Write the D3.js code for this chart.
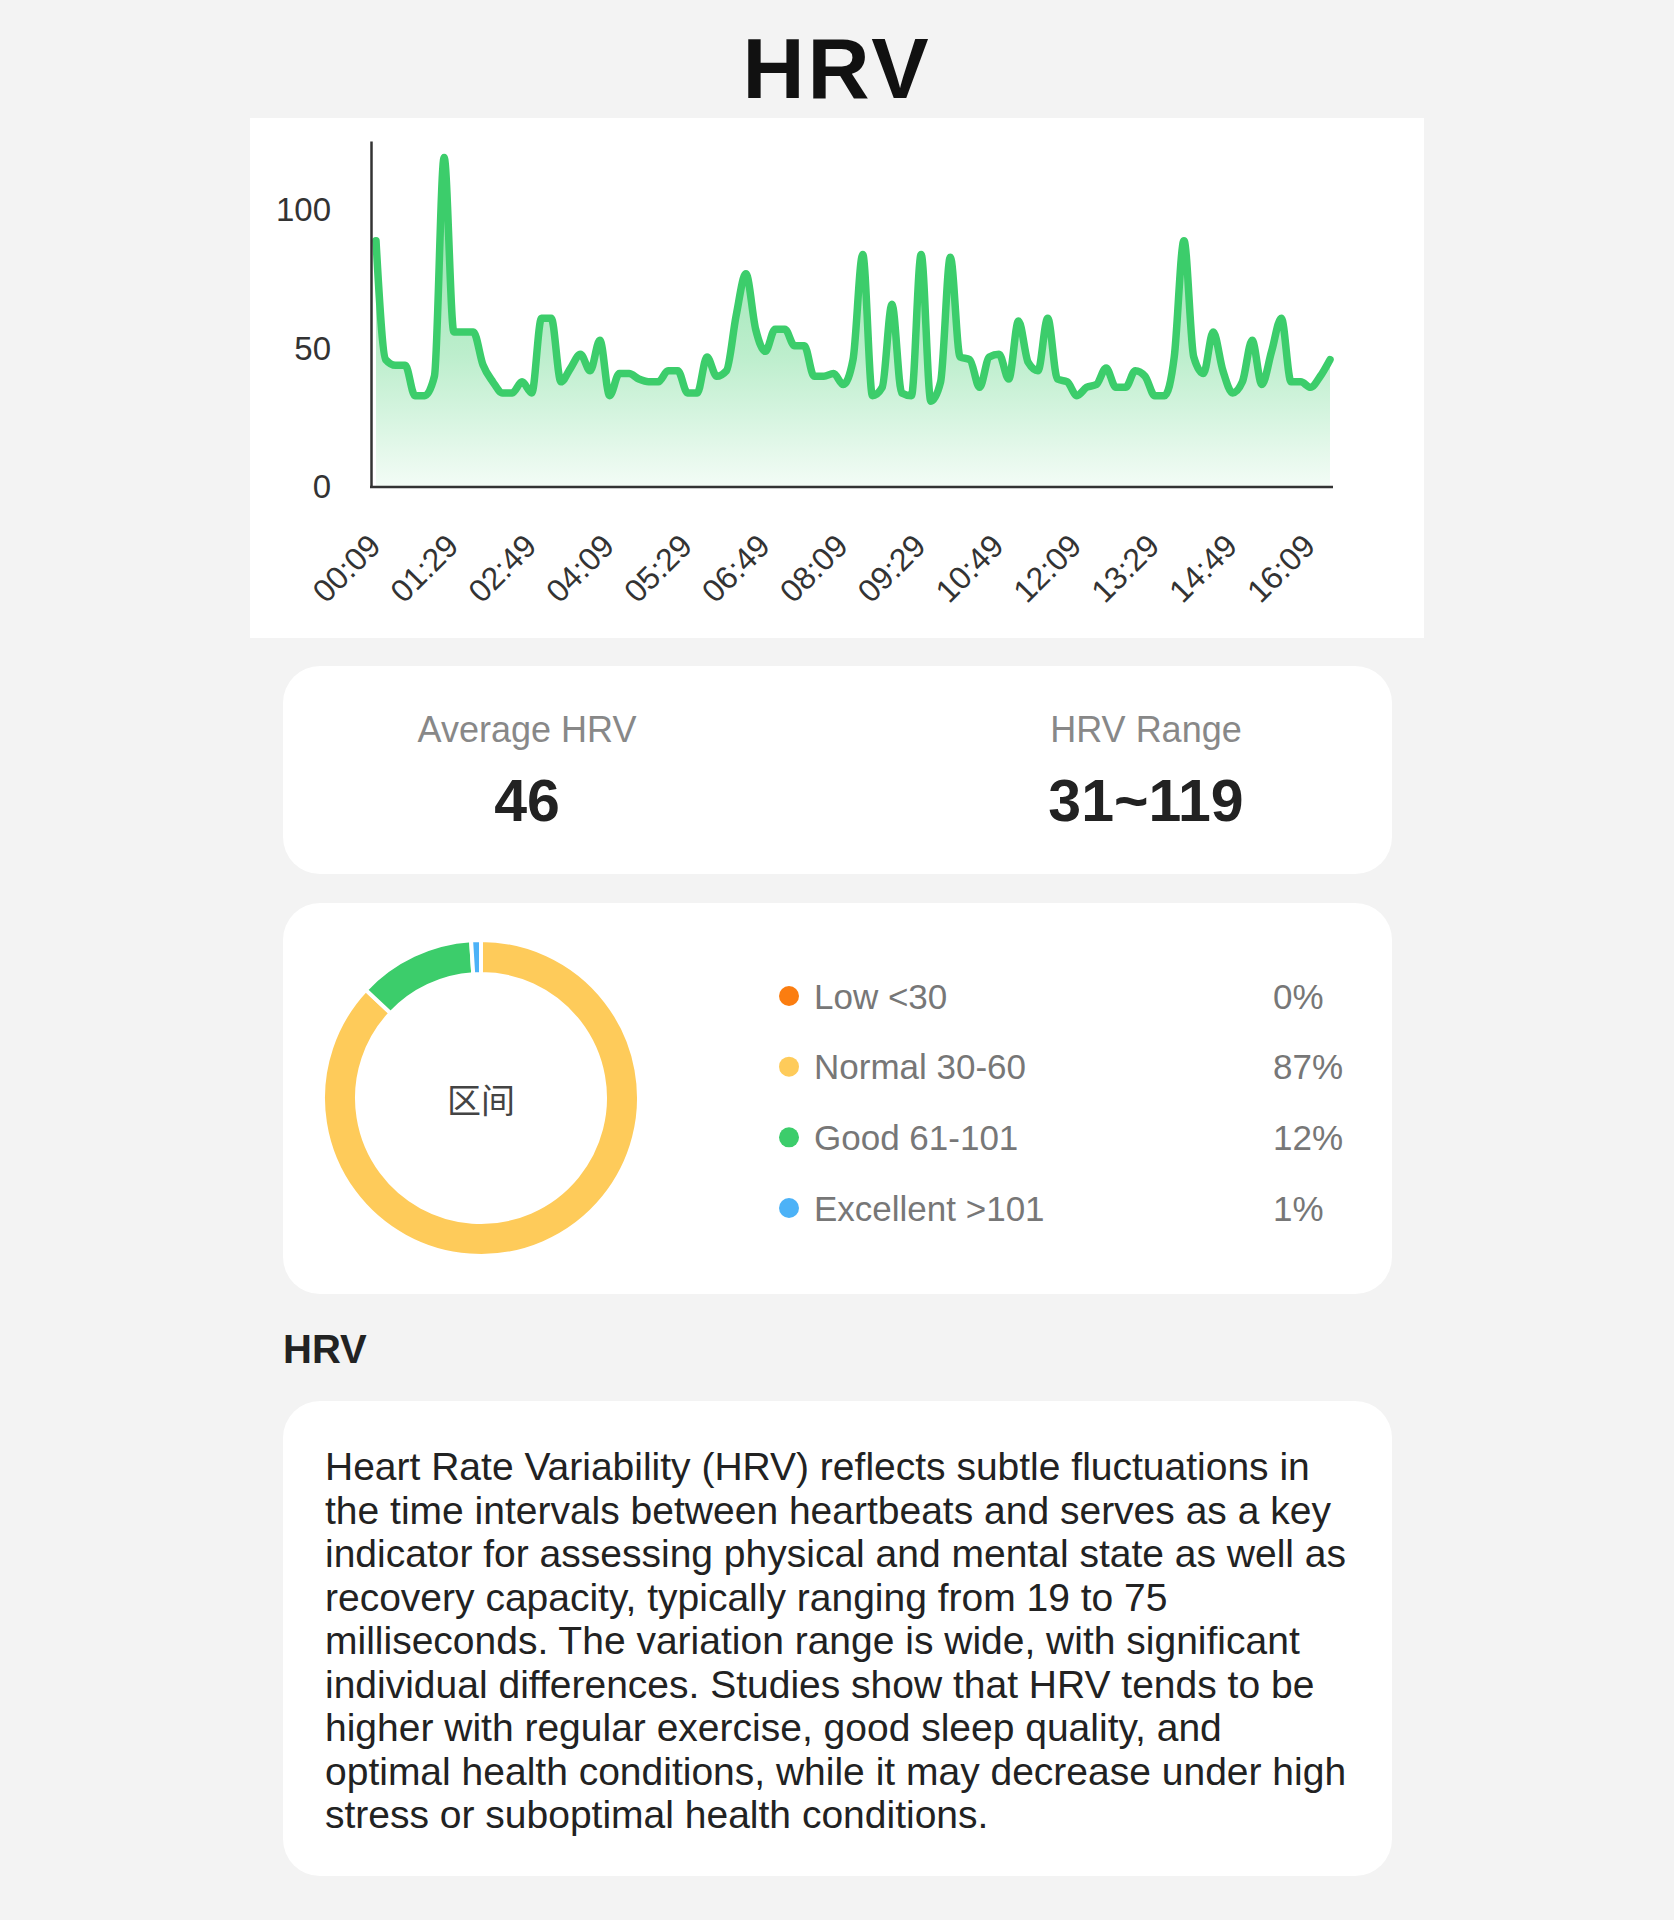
<!DOCTYPE html>
<html><head><meta charset="utf-8">
<script src="https://cdn.jsdelivr.net/npm/d3@7"></script>
<style>
html,body{margin:0;padding:0;background:#f3f3f3;}
svg{display:block;}
</style></head>
<body>
<svg id="c" width="1674" height="1920"></svg>
<script>
// ---------------- DATA ----------------
const startMinute = 9;          // 00:09
const stepMinutes = 10;         // one reading every 10 minutes
const hrvValues = [
  89,46,44,44,33,33,40,119,56,56,
  56,44,38,34,34,38,34,61,61,38,
  43,48,42,53,33,41,41,39,38,38,
  42,42,34,34,47,40,42,62,77,57,
  49,57,57,51,51,40,40,41,37,46,
  84,33,36,66,34,33,84,31,38,83,
  47,46,36,47,48,39,60,45,42,61,
  39,38,33,36,37,43,36,36,42,40,
  33,33,47,89,47,41,56,42,34,38,
  53,37,49,61,38,38,36,40,46
];
const xTickLabels = ["00:09","01:29","02:49","04:09","05:29","06:49","08:09","09:29","10:49","12:09","13:29","14:49","16:09"];
const yTickValues = [0,50,100];
const yMax = 125;
const zoneNames = ["Low <30","Normal 30-60","Good 61-101","Excellent >101"];
const zonePercents = [0,87,12,1];
const zoneColors = ["#fb7d10","#fecb5a","#3ccd6b","#4cb2f7"];
const statLabels = ["Average HRV","HRV Range"];
const statValues = ["46","31~119"];
const donutCenterLabel = "区间";
const pageTitle = "HRV";
const sectionTitle = "HRV";
const descLines = [
  "Heart Rate Variability (HRV) reflects subtle fluctuations in",
  "the time intervals between heartbeats and serves as a key",
  "indicator for assessing physical and mental state as well as",
  "recovery capacity, typically ranging from 19 to 75",
  "milliseconds. The variation range is wide, with significant",
  "individual differences. Studies show that HRV tends to be",
  "higher with regular exercise, good sleep quality, and",
  "optimal health conditions, while it may decrease under high",
  "stress or suboptimal health conditions."
];

// categories (time of each reading)
const pad2 = n => String(n).padStart(2,"0");
const times = hrvValues.map((_, i) => {
  const m = startMinute + i * stepMinutes;
  return pad2(Math.floor(m / 60)) + ":" + pad2(m % 60);
});

// ---------------- DRAW ----------------
const FONT = "'Liberation Sans', Arial, Helvetica, sans-serif";
const svg = d3.select("#c");
svg.append("rect").attr("width",1674).attr("height",1920).attr("fill","#f3f3f3");

// title
svg.append("text").attr("x",837).attr("y",98).attr("text-anchor","middle")
  .attr("font-family",FONT).attr("font-weight","bold").attr("font-size",86)
  .attr("letter-spacing",3).attr("fill","#111").text(pageTitle);

// chart card
svg.append("rect").attr("x",250).attr("y",118).attr("width",1174).attr("height",520).attr("fill","#fff");

const x = d3.scalePoint().domain(times).range([376,1330]);
const y = d3.scaleLinear().domain([0,yMax]).range([487,141]);

const defs = svg.append("defs");
const grad = defs.append("linearGradient").attr("id","areaGrad")
  .attr("gradientUnits","userSpaceOnUse").attr("x1",0).attr("x2",0)
  .attr("y1",y(d3.max(hrvValues))).attr("y2",y(0));
grad.append("stop").attr("offset","0%").attr("stop-color","#3ccd6b").attr("stop-opacity",0.62);
grad.append("stop").attr("offset","60%").attr("stop-color","#3ccd6b").attr("stop-opacity",0.34);
grad.append("stop").attr("offset","100%").attr("stop-color","#3ccd6b").attr("stop-opacity",0.06);

const area = d3.area().x((d,i)=>x(times[i])).y0(y(0)).y1(d=>y(d)).curve(d3.curveMonotoneX);
const line = d3.line().x((d,i)=>x(times[i])).y(d=>y(d)).curve(d3.curveMonotoneX);

svg.append("path").datum(hrvValues).attr("d",area).attr("fill","url(#areaGrad)");
svg.append("path").datum(hrvValues).attr("d",line).attr("fill","none")
  .attr("stroke","#3ccd6b").attr("stroke-width",7.5).attr("stroke-linejoin","round").attr("stroke-linecap","round");

// y axis
const yAxis = svg.append("g").attr("transform","translate(371,0)")
  .call(d3.axisLeft(y).tickValues(yTickValues).tickSize(0).tickPadding(40));
yAxis.select(".domain").attr("stroke","#333").attr("stroke-width",2.5);
yAxis.selectAll("text").attr("font-family",FONT).attr("font-size",33).attr("fill","#333");

// x axis
const xAxis = svg.append("g").attr("transform","translate(0,487)")
  .call(d3.axisBottom(x).tickValues(xTickLabels).tickSize(0));
xAxis.select(".domain").remove();
xAxis.append("line").attr("x1",370).attr("x2",x.range()[1]+3).attr("y1",0).attr("y2",0)
  .attr("stroke","#333").attr("stroke-width",2.5);
xAxis.selectAll(".tick text").attr("font-family",FONT).attr("font-size",32).attr("fill","#333")
  .attr("text-anchor","end").attr("y",0).attr("dy",0)
  .attr("transform","translate(6,61) rotate(-45)");

// cards
function card(yy,h){
  svg.append("rect").attr("x",283).attr("y",yy).attr("width",1109).attr("height",h)
    .attr("rx",37).attr("ry",37).attr("fill","#fff");
}
card(666,208);
card(903,391);
card(1401,475);

// stats
const statX = [527,1146];
statLabels.forEach((t,i)=>{
  svg.append("text").attr("x",statX[i]).attr("y",742).attr("text-anchor","middle")
    .attr("font-family",FONT).attr("font-size",36).attr("fill","#888").text(t);
  svg.append("text").attr("x",statX[i]).attr("y",821).attr("text-anchor","middle")
    .attr("font-family",FONT).attr("font-weight","bold").attr("font-size",59).attr("fill","#222").text(statValues[i]);
});

// donut
const pie = d3.pie().sort(null).value(d=>d);
const arc = d3.arc().innerRadius(124).outerRadius(158);
const dg = svg.append("g").attr("transform","translate(481,1098)");
dg.selectAll("path").data(pie(zonePercents)).join("path")
  .attr("d",arc).attr("fill",(d,i)=>zoneColors[i]).attr("stroke","#fff").attr("stroke-width",4);
dg.append("text").attr("text-anchor","middle").attr("dominant-baseline","central")
  .attr("font-family","'Noto Sans CJK SC', sans-serif").attr("font-size",34).attr("fill","#444")
  .text(donutCenterLabel);

// legend
const legY = d3.scalePoint().domain(zoneNames).range([996,1208]);
const lg = svg.append("g");
zoneNames.forEach((n,i)=>{
  const yy = legY(n);
  lg.append("circle").attr("cx",789).attr("cy",yy).attr("r",10).attr("fill",zoneColors[i]);
  lg.append("text").attr("x",814).attr("y",yy).attr("dominant-baseline","central")
    .attr("font-family",FONT).attr("font-size",35).attr("fill","#777").text(n);
  lg.append("text").attr("x",1273).attr("y",yy).attr("dominant-baseline","central")
    .attr("font-family",FONT).attr("font-size",35).attr("fill","#777").text(zonePercents[i]+"%");
});

// section title
svg.append("text").attr("x",283).attr("y",1363).attr("font-family",FONT)
  .attr("font-weight","bold").attr("font-size",40).attr("fill","#222").text(sectionTitle);

// description
const desc = svg.append("text").attr("font-family",FONT).attr("font-size",39).attr("fill","#222");
descLines.forEach((l,i)=>{
  desc.append("tspan").attr("x",325).attr("y",1480 + i*43.5).text(l);
});
</script>
</body></html>
